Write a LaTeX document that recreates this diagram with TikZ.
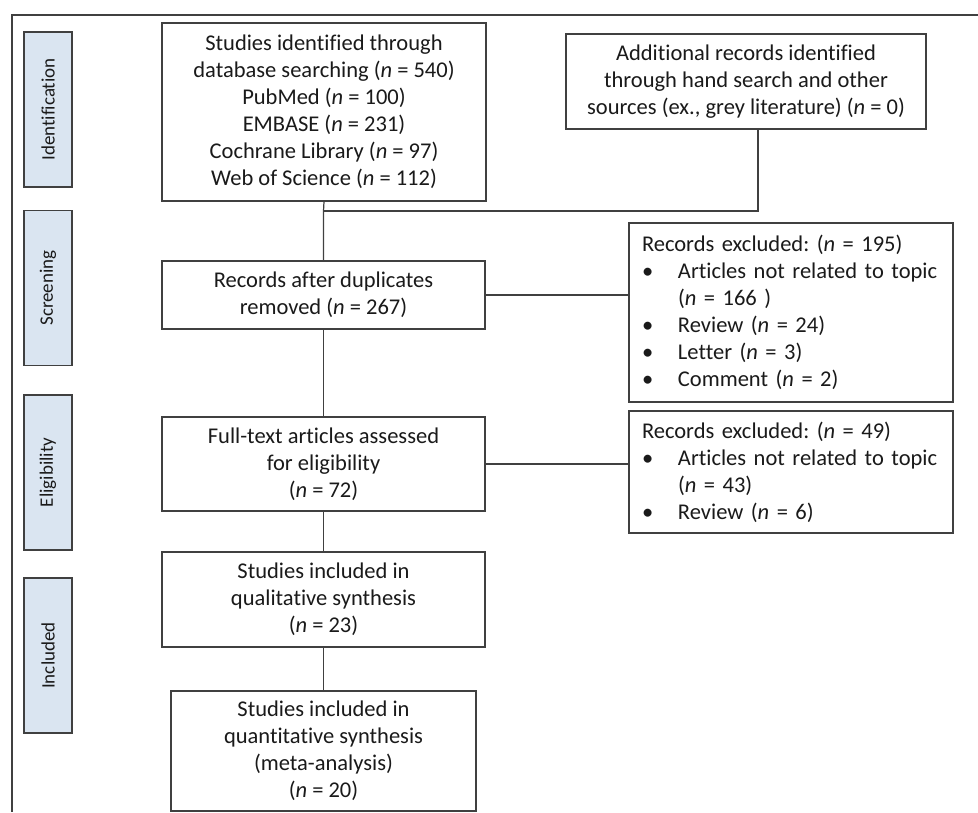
\documentclass[tikz,border=0pt]{standalone}
\usepackage{fontspec}
\setmainfont[Ligatures={NoCommon}]{Carlito}
\frenchspacing
\definecolor{stagefill}{RGB}{218,229,241}
\definecolor{linecol}{RGB}{64,64,64}
\definecolor{txt}{RGB}{26,26,26}
\newcommand{\nn}{\textit{n}}
\newcommand{\bl}{\makebox[36pt][l]{\textbullet}}
\begin{document}
\begin{tikzpicture}[x=1pt,y=-1pt,
  every node/.style={text=txt},
  flowbox/.style={draw=linecol,line width=1.2pt,fill=white,inner sep=0pt,align=center,
     font=\fontsize{22.5}{27}\selectfont},
  exclbox/.style={draw=linecol,line width=1.2pt,fill=white,inner xsep=13pt,inner ysep=0pt,
     align=left,text width=298pt,minimum width=324pt,font=\fontsize{22.5}{27}\selectfont},
  stagebox/.style={draw=linecol,line width=1.2pt,fill=stagefill,inner sep=0pt,
     minimum width=48pt,minimum height=155pt},
  stagetext/.style={rotate=90,font=\fontsize{19}{22}\selectfont,inner sep=0pt},
  conn/.style={draw=linecol,line width=1.2pt}]
\useasboundingbox (0,0) rectangle (978,812);
\fill[white] (0,0) rectangle (978,812);
% outer frame (only top and left visible)
\coordinate (fa) at (978,15);
\coordinate (fb) at (12,15);
\coordinate (fc) at (12,812);
\draw[conn] (fa) -- (fb) -- (fc);
% stage labels
\node[stagebox] (s1) at (48,109.5) {};
\node[stagetext] (s1t) at (s1.center) {Identification};
\node[stagebox] (s2) at (48,288) {};
\node[stagetext] (s2t) at (s2.center) {Screening};
\node[stagebox] (s3) at (48,472.5) {};
\node[stagetext] (s3t) at (s3.center) {Eligibility};
\node[stagebox] (s4) at (48,655.5) {};
\node[stagetext] (s4t) at (s4.center) {Included};
% main boxes
\node[flowbox,minimum width=324pt,minimum height=178pt] (b1) at (324,112)
  {Studies identified through\\database searching (\nn{} = 540)\\PubMed (\nn{} = 100)\\EMBASE (\nn{} = 231)\\Cochrane Library (\nn{} = 97)\\Web of Science (\nn{} = 112)};
\node[flowbox,minimum width=360pt,minimum height=95pt] (b2) at (746,81.5)
  {Additional records identified\\through hand search and other\\sources (ex., grey literature) (\nn{} = 0)};
\node[flowbox,minimum width=323pt,minimum height=68pt] (b3) at (323.5,295)
  {Records after duplicates\\removed (\nn{} = 267)};
\node[flowbox,minimum width=323pt,minimum height=94pt] (b4) at (323.5,464)
  {Full-text articles assessed\\for eligibility\\(\nn{} = 72)};
\node[flowbox,minimum width=323pt,minimum height=95pt] (b5) at (323.5,599.5)
  {Studies included in\\qualitative synthesis\\(\nn{} = 23)};
\node[flowbox,minimum width=305pt,minimum height=120pt] (b6) at (323.5,751)
  {Studies included in\\quantitative synthesis\\(meta-analysis)\\(\nn{} = 20)};
% exclusion boxes
\node[exclbox,minimum height=179pt] (e1) at (791,312.5)
  {Records excluded: (\nn{} = 195)\\
   \bl Articles not related to topic\\
   \hspace*{36pt}(\nn{} = 166 )\\
   \bl Review (\nn{} = 24)\\
   \bl Letter (\nn{} = 3)\\
   \bl Comment (\nn{} = 2)};
\node[exclbox,minimum height=122pt] (e2) at (791,472)
  {Records excluded: (\nn{} = 49)\\
   \bl Articles not related to topic\\
   \hspace*{36pt}(\nn{} = 43)\\
   \bl Review (\nn{} = 6)};
% connectors
\coordinate (j1) at (323.5,211);
\coordinate (j2) at (758,211);
\draw[conn] (b1.south) -- (j1) -- (b3.north);
\draw[conn] (j1) -- (j2) -- (j2 |- b2.south);
\draw[conn] (b3.east) -- (b3.east -| e1.west);
\draw[conn] (b4.east) -- (b4.east -| e2.west);
\draw[conn] (b3.south) -- (b4.north);
\draw[conn] (b4.south) -- (b5.north);
\draw[conn] (b5.south) -- (b6.north);
\end{tikzpicture}
\end{document}
